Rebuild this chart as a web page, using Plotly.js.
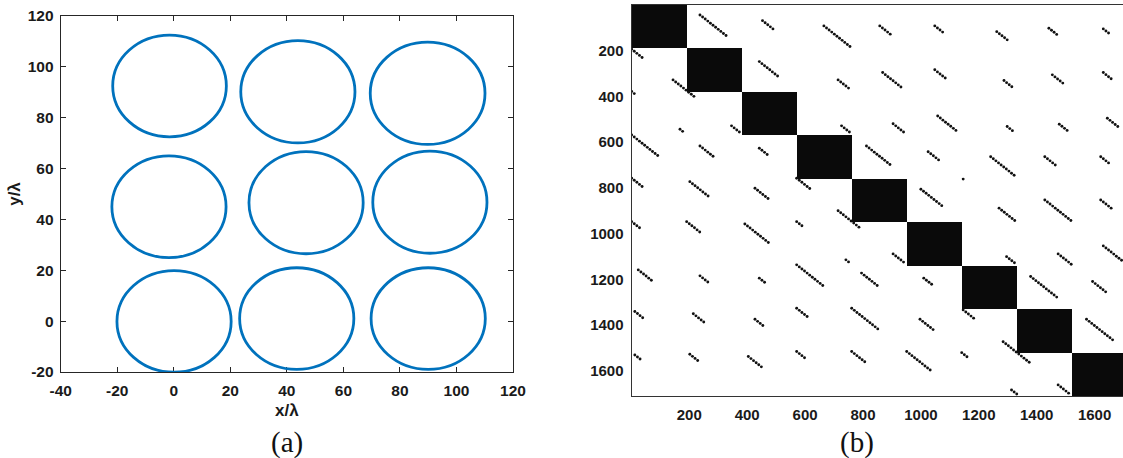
<!DOCTYPE html>
<html>
<head>
<meta charset="utf-8">
<script src="https://cdn.plot.ly/plotly-3.0.1.min.js"></script>
<style>html,body{margin:0;padding:0;background:#fff;}#chart{width:1123px;height:458px;}</style>
</head>
<body>
<div id="chart"></div>
<script>
// ---------- Panel (a): circles ----------
const circleCx = [-1.5, 43.9, 89.8, -1.7, 46.8, 90.6, 0.1, 43.5, 90.0];
const circleCy = [92.5, 90.2, 89.6, 45.0, 46.6, 46.8, -0.1, 1.0, 1.0];
const circleRx = [20.1, 20.2, 20.3, 20.2, 20.2, 20.2, 20.2, 20.2, 20.2];
const circleRy = [20.0, 20.1, 20.1, 20.0, 20.1, 20.1, 20.0, 20.0, 20.0];
const aXTicks = [-40, -20, 0, 20, 40, 60, 80, 100, 120];
const aYTicks = [-20, 0, 20, 40, 60, 80, 100, 120];

// ---------- Panel (b): sparsity pattern ----------
const blockEdges = [0.5, 190.5, 380.5, 570.5, 760.5, 950.5, 1140.5, 1330.5, 1520.5, 1710.5];
// off-diagonal diagonal runs: start row, start column, length (entries)
const segRow = [44, 69, 92, 194, 248, 328, 328, 379, 544, 529, 529, 569, 617, 627, 617, 758, 773, 802, 758,
  92, 92, 117, 102, 105, 296, 284, 331, 306, 296, 520, 486, 532, 522, 496, 642, 664, 664, 664, 762, 806,
  900, 948, 948, 958, 948, 1115, 1159, 1185, 1195, 1137, 1173, 1341, 1351, 1375, 1327, 1327, 1531, 1528, 1538, 1516, 1516,
  889, 853, 853, 1089, 1101, 1089, 1054, 1195, 1188, 1210, 1334, 1375, 1375, 1473, 1516, 1521, 1662, 1684];
const segCol = [237, 453, 665, 1, 442, 144, 714, 1, 168, 346, 726, 1, 237, 442, 812, 1, 202, 427, 571,
  858, 1048, 1262, 1442, 1630, 868, 1048, 1287, 1454, 1630, 904, 1058, 1298, 1478, 1644, 1025, 1241, 1428, 1621, 1146, 1000,
  714, 1, 191, 392, 571, 741, 24, 237, 442, 571, 795, 12, 214, 427, 571, 761, 12, 202, 404, 571, 761,
  1270, 1428, 1621, 904, 1296, 1474, 1630, 1010, 1379, 1593, 1146, 997, 1572, 1284, 951, 1141, 1474, 1313];
const segLen = [90, 43, 91, 39, 66, 79, 43, 15, 17, 30, 30, 90, 45, 32, 88, 38, 67, 49, 45,
  42, 30, 43, 33, 20, 67, 43, 31, 43, 33, 43, 67, 19, 31, 43, 42, 89, 44, 32, 4, 76,
  79, 32, 45, 83, 20, 15, 46, 33, 20, 94, 60, 30, 44, 33, 44, 95, 19, 35, 47, 34, 46,
  56, 91, 43, 40, 29, 45, 68, 35, 92, 45, 40, 47, 92, 92, 83, 20, 43, 20];
const bTicks = [200, 400, 600, 800, 1000, 1200, 1400, 1600];

// block-diagonal matrix for the heatmap
const nB = blockEdges.length - 1;
const blockZ = [];
for (let i = 0; i < nB; i++) {
  const row = [];
  for (let j = 0; j < nB; j++) row.push(i === j ? 1 : null);
  blockZ.push(row);
}
// expand runs into nonzero entries (drawn every few entries, as in the spy picture)
const dotStep = 9;
const spyX = [], spyY = [];
for (let k = 0; k < segRow.length; k++) {
  for (let t = 0; t <= segLen[k]; t += dotStep) {
    spyX.push(segCol[k] + t);
    spyY.push(segRow[k] + t);
  }
}

const axisColor = '#262626';
const tickFont = {family: 'Liberation Sans, Arial, sans-serif', size: 15.5, color: '#1a1a1a', weight: 'bold'};
const tickFontB = {family: 'Liberation Sans, Arial, sans-serif', size: 15, color: '#1a1a1a', weight: 'bold'};

const shapes = circleCx.map((cx, i) => ({
  type: 'circle', xref: 'x', yref: 'y',
  x0: cx - circleRx[i], x1: cx + circleRx[i],
  y0: circleCy[i] - circleRy[i], y1: circleCy[i] + circleRy[i],
  line: {color: '#0072BD', width: 2.8}
}));

const traces = [
  {type: 'scatter', x: [], y: [], xaxis: 'x', yaxis: 'y', showlegend: false, hoverinfo: 'none'},
  {type: 'heatmap', x: blockEdges, y: blockEdges, z: blockZ, xaxis: 'x2', yaxis: 'y2',
   colorscale: [[0, '#0a0a0a'], [1, '#0a0a0a']], showscale: false, hoverinfo: 'none', zsmooth: false},
  {type: 'scatter', mode: 'markers', x: spyX, y: spyY, xaxis: 'x2', yaxis: 'y2',
   marker: {color: '#111', size: 2.9, line: {width: 0}}, showlegend: false, hoverinfo: 'none'}
];

const W = 1123, H = 458;
const layout = {
  width: W, height: H,
  margin: {l: 0, r: 0, t: 0, b: 0, pad: 0},
  paper_bgcolor: '#fff', plot_bgcolor: '#fff',
  showlegend: false,
  shapes: shapes,
  xaxis: {
    domain: [60.7 / W, 513 / W], range: [-40, 120], tickvals: aXTicks, ticktext: aXTicks.map(String),
    ticks: 'inside', ticklen: 5, tickwidth: 1, tickcolor: axisColor,
    showline: true, linecolor: axisColor, linewidth: 1, mirror: 'ticks',
    showgrid: false, zeroline: false, tickfont: tickFont, ticklabelstandoff: 4,
    automargin: false,
    title: {text: 'x/λ', font: {family: 'Liberation Sans, Arial, sans-serif', size: 17, color: '#1a1a1a', weight: 'bold'}, standoff: 6}
  },
  yaxis: {
    domain: [1 - 372 / H, 1 - 16 / H], range: [-20, 120], tickvals: aYTicks, ticktext: aYTicks.map(String),
    ticks: 'inside', ticklen: 5, tickwidth: 1, tickcolor: axisColor,
    showline: true, linecolor: axisColor, linewidth: 1, mirror: 'ticks',
    showgrid: false, zeroline: false, tickfont: tickFont, ticklabelstandoff: 3,
    automargin: false,
    title: {text: 'y/λ', font: {family: 'Liberation Sans, Arial, sans-serif', size: 17, color: '#1a1a1a', weight: 'bold'}, standoff: 2}
  },
  xaxis2: {
    domain: [631.5 / W, 1], range: [0.5, 1698], tickvals: bTicks, anchor: 'y2',
    ticks: '', showline: true, linecolor: '#333', linewidth: 1, mirror: true,
    showgrid: false, zeroline: false, tickfont: tickFontB, ticklabelstandoff: 5,
    automargin: false
  },
  yaxis2: {
    domain: [1 - 396 / H, 1 - 5 / H], range: [1710.5, 0.5], tickvals: bTicks, anchor: 'x2',
    ticks: '', showline: true, linecolor: '#333', linewidth: 1, mirror: false,
    showgrid: false, zeroline: false, tickfont: tickFontB, ticklabelstandoff: 4,
    automargin: false
  },
  annotations: [
    {text: '(a)', xref: 'paper', yref: 'paper', x: 287 / W, y: 1 - 442 / H, xanchor: 'center', yanchor: 'middle',
     showarrow: false, font: {family: 'Liberation Serif, Times New Roman, serif', size: 29, color: '#111'}},
    {text: '(b)', xref: 'paper', yref: 'paper', x: 856.5 / W, y: 1 - 442 / H, xanchor: 'center', yanchor: 'middle',
     showarrow: false, font: {family: 'Liberation Serif, Times New Roman, serif', size: 29, color: '#111'}}
  ]
};

Plotly.newPlot('chart', traces, layout, {staticPlot: true, displayModeBar: false});
</script>
</body>
</html>
